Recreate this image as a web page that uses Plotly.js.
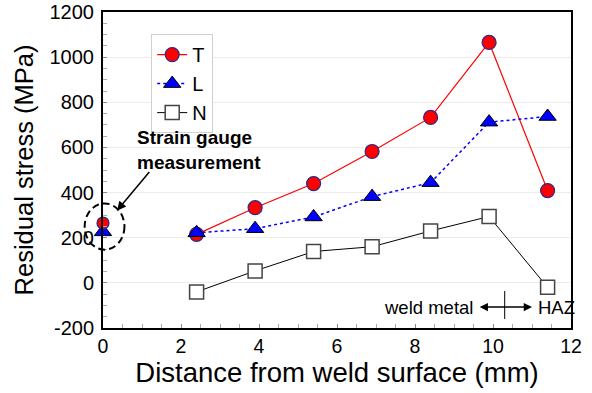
<!DOCTYPE html>
<html>
<head>
<meta charset="utf-8">
<script src="https://cdn.plot.ly/plotly-3.0.1.min.js"></script>
<style>html,body{margin:0;padding:0;background:#fff;}#chart{width:592px;height:393px;}</style>
</head>
<body>
<div id="chart"></div>
<script>
// Data
const depth = [2.4, 3.9, 5.4, 6.9, 8.4, 9.9, 11.4];
const stressT = [215, 333, 440, 582, 733, 1065, 409];
const stressL = [222, 240, 292, 382, 444, 712, 737];
const stressN = [-40, 53, 139, 160, 230, 294, -20];
const gaugeX = [0];
const gaugeT = [265];
const gaugeL = [226];
const yTicks = [-200, 0, 200, 400, 600, 800, 1000, 1200];
const yTickText = ['-200', '0', '200', '400', '600', '800', '1000', '1200'];
const xTicks = [0, 2, 4, 6, 8, 10, 12];
const xTickText = ['0', '2', '4', '6', '8', '10', '12'];

const FONT = 'Liberation Sans, Arial, sans-serif';
const xr = [0, 12], yr = [-200, 1200];
const px = v => (v - xr[0]) / (xr[1] - xr[0]);
const py = v => (v - yr[0]) / (yr[1] - yr[0]);

const mT = {symbol: 'circle', size: 14, color: '#ff0000', line: {color: '#2a2a8a', width: 1.2}};
const mL = {symbol: 'triangle-up', size: 15, color: '#0000ff', line: {color: '#000000', width: 1}};
const mN = {symbol: 'square', size: 14, color: '#ffffff', line: {color: '#444444', width: 1.5}};

const traces = [
  {x: depth, y: stressT, name: 'T', mode: 'lines+markers', line: {color: '#ff0000', width: 1.2}, marker: mT},
  {x: depth, y: stressL, name: 'L', mode: 'lines+markers', line: {color: '#0000ff', width: 1.5, dash: 'dot'}, marker: mL},
  {x: depth, y: stressN, name: 'N', mode: 'lines+markers', line: {color: '#000000', width: 1}, marker: mN},
  {x: gaugeX, y: gaugeL, mode: 'markers', marker: mL, showlegend: false, cliponaxis: false},
  {x: gaugeX, y: gaugeT, mode: 'markers', marker: Object.assign({}, mT, {size: 12}), showlegend: false, cliponaxis: false}
];

const layout = {
  width: 592, height: 393,
  margin: {l: 103, r: 21, t: 12, b: 65},
  paper_bgcolor: '#ffffff', plot_bgcolor: '#ffffff',
  font: {family: FONT, color: '#000000'},
  showlegend: true,
  legend: {
    x: 0.103, y: 0.93, xanchor: 'left', yanchor: 'top',
    bgcolor: '#ffffff', bordercolor: '#d0d0d0', borderwidth: 1,
    font: {size: 20, family: FONT}, tracegroupgap: 0, itemwidth: 30
  },
  xaxis: {
    range: xr, tickvals: xTicks, ticktext: xTickText,
    showgrid: false, zeroline: false,
    showline: true, linecolor: '#000000', linewidth: 2, mirror: true,
    ticks: 'inside', ticklen: 4, tickcolor: '#888888',
    minor: {dtick: 0.5, ticks: 'inside', ticklen: 4, tickcolor: '#aaaaaa', showgrid: false},
    tickfont: {size: 19.5, family: FONT},
    title: {text: 'Distance from weld surface (mm)', font: {size: 27.5, family: FONT}, standoff: 6}
  },
  yaxis: {
    range: yr, tickvals: yTicks, ticktext: yTickText,
    showgrid: true, gridcolor: '#ececec', gridwidth: 1, zeroline: false,
    showline: true, linecolor: '#000000', linewidth: 2, mirror: true,
    ticks: 'inside', ticklen: 4, tickcolor: '#888888', ticklabelstandoff: 3,
    minor: {dtick: 50, ticks: 'inside', ticklen: 4, tickcolor: '#aaaaaa', showgrid: false},
    tickfont: {size: 20, family: FONT},
    title: {text: 'Residual stress (MPa)', font: {size: 25.5, family: FONT}, standoff: 9}
  },
  shapes: [
    {type: 'circle', xref: 'paper', yref: 'paper',
     x0: px(-0.47), x1: px(0.55), y0: py(147), y1: py(352),
     line: {color: '#000000', width: 2, dash: '7px,4px'}},
    {type: 'line', xref: 'x', yref: 'y', x0: 10.3, x1: 10.3, y0: -36, y1: -160,
     line: {color: '#000000', width: 1}}
  ],
  annotations: [
    {x: 2.46, y: 587, xref: 'x', yref: 'y', showarrow: false,
     text: '<b>Strain gauge<br>measurement</b>', align: 'left',
     font: {size: 19, family: FONT, color: '#000000'}},
    {x: 0.36, y: 320, ax: 1.22, ay: 498, xref: 'x', yref: 'y', axref: 'x', ayref: 'y',
     text: '', showarrow: true, arrowhead: 2, arrowsize: 1.2, arrowwidth: 1.5, arrowcolor: '#000000'},
    {x: 11.0, y: -107, ax: 9.62, ay: -107, xref: 'x', yref: 'y', axref: 'x', ayref: 'y',
     text: '', showarrow: true, arrowhead: 2, arrowside: 'end+start', arrowsize: 1.1, arrowwidth: 1.5, arrowcolor: '#000000'},
    {x: 9.55, y: -107, xref: 'x', yref: 'y', xanchor: 'right', showarrow: false,
     text: 'weld metal', font: {size: 18.5, family: FONT, color: '#000000'}},
    {x: 11.1, y: -107, xref: 'x', yref: 'y', xanchor: 'left', showarrow: false,
     text: 'HAZ', font: {size: 18.5, family: FONT, color: '#000000'}}
  ]
};

Plotly.newPlot('chart', traces, layout, {displayModeBar: false, staticPlot: true});
</script>
</body>
</html>
